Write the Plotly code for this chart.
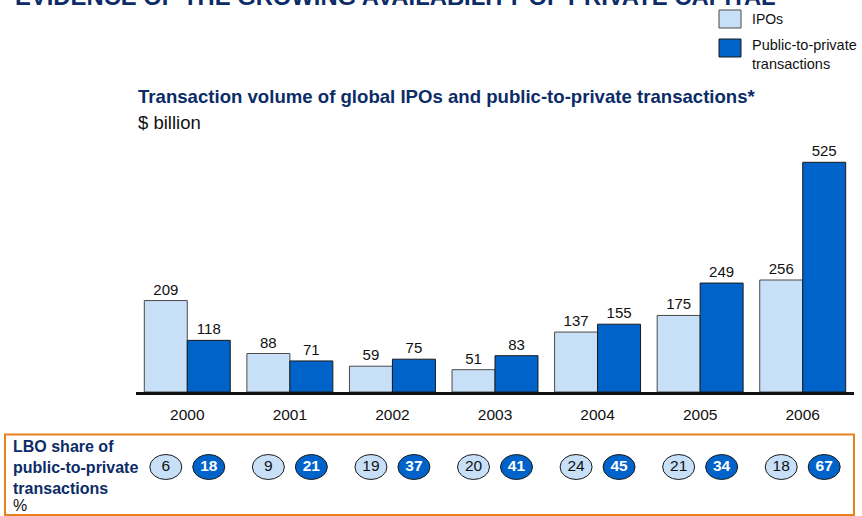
import plotly.graph_objects as go

years = ["2000", "2001", "2002", "2003", "2004", "2005", "2006"]
ipos = [209, 88, 59, 51, 137, 175, 256]
p2p = [118, 71, 75, 83, 155, 249, 525]
lbo_ipo = [6, 9, 19, 20, 24, 21, 18]
lbo_p2p = [18, 21, 37, 41, 45, 34, 67]

W, H = 862, 516
LIGHT = "#C8DFF8"
DARK = "#0063CA"
NAVY = "#0C2C67"
ORANGE = "#E8801E"
FONT = "Liberation Sans, Arial, sans-serif"

bargap = 0.162
idx = list(range(len(years)))
off = (1 - bargap) / 4

fig = go.Figure()
fig.add_trace(go.Bar(
    x=idx, y=ipos, name="IPOs", marker=dict(color=LIGHT, line=dict(color="#4a4a4a", width=1)),
    text=[str(v) for v in ipos], textposition="outside", cliponaxis=False,
    textfont=dict(size=15, color="#111111", family=FONT), showlegend=False))
fig.add_trace(go.Bar(
    x=idx, y=p2p, name="Public-to-private transactions",
    marker=dict(color=DARK, line=dict(color="#1a1a1a", width=1)),
    text=[str(v) for v in p2p], textposition="outside", cliponaxis=False,
    textfont=dict(size=15, color="#111111", family=FONT), showlegend=False))

# LBO share bubbles
xl = [i - off for i in idx]
xr = [i + off for i in idx]
YC = 0.5
fig.add_trace(go.Scatter(
    x=xl, y=[YC] * len(idx), xaxis="x", yaxis="y2", mode="text",
    text=[str(v) for v in lbo_ipo], textfont=dict(size=15.5, color="#111111", family=FONT),
    showlegend=False, hoverinfo="skip"))
fig.add_trace(go.Scatter(
    x=xr, y=[YC] * len(idx), xaxis="x", yaxis="y2", mode="text",
    text=["<b>%d</b>" % v for v in lbo_p2p], textfont=dict(size=15.5, color="white", family=FONT),
    showlegend=False, hoverinfo="skip"))

shapes = []
for xs, fill in ((xl, LIGHT), (xr, DARK)):
    for xc in xs:
        shapes.append(dict(type="circle", xref="x", yref="y2", xsizemode="pixel", ysizemode="pixel",
                           xanchor=xc, yanchor=YC, x0=-16, x1=16, y0=-12.5, y1=12.5,
                           fillcolor=fill, line=dict(color="#1a1a1a", width=1), layer="below"))

# orange box
shapes.append(dict(type="rect", xref="paper", yref="paper", x0=5 / W, x1=854 / W,
                   y0=1 - 515 / H, y1=1 - 434.5 / H, line=dict(color=ORANGE, width=2),
                   fillcolor="rgba(0,0,0,0)", layer="below"))
# legend squares
shapes.append(dict(type="rect", xref="paper", yref="paper", x0=719 / W, x1=741 / W,
                   y0=1 - 28 / H, y1=1 - 10 / H, fillcolor=LIGHT, line=dict(color="#4a4a4a", width=1)))
shapes.append(dict(type="rect", xref="paper", yref="paper", x0=719 / W, x1=741 / W,
                   y0=1 - 57 / H, y1=1 - 39 / H, fillcolor=DARK, line=dict(color="#1a1a1a", width=1)))

def px(xp):
    return xp / W

def py(yp):
    return 1 - yp / H

annotations = [
    dict(text="<b>EVIDENCE OF THE GROWING AVAILABILITY OF PRIVATE CAPITAL</b>", x=px(13), y=py(12),
         xanchor="left", yanchor="bottom", font=dict(size=23.8, color=NAVY, family=FONT)),
    dict(text="IPOs", x=px(750), y=py(19), xanchor="left", yanchor="middle",
         font=dict(size=14, color="#111111", family=FONT)),
    dict(text="Public-to-private<br>transactions", x=px(750), y=py(55), xanchor="left", yanchor="middle",
         align="left", font=dict(size=14.5, color="#111111", family=FONT)),
    dict(text="<b>Transaction volume of global IPOs and public-to-private transactions*</b>",
         x=px(136), y=py(96), xanchor="left", yanchor="middle",
         font=dict(size=18.6, color=NAVY, family=FONT)),
    dict(text="$ billion", x=px(136), y=py(123), xanchor="left", yanchor="middle",
         font=dict(size=18.5, color="#111111", family=FONT)),
    dict(text="<b>LBO share of<br>public-to-private<br>transactions</b>", x=px(11), y=py(467),
         xanchor="left", yanchor="middle", align="left",
         font=dict(size=16, color=NAVY, family=FONT)),
    dict(text="%", x=px(11), y=py(505), xanchor="left", yanchor="middle",
         font=dict(size=16, color="#111111", family=FONT)),
]
for a in annotations:
    a.update(xref="paper", yref="paper", showarrow=False)

fig.update_layout(
    width=W, height=H, margin=dict(l=0, r=0, t=0, b=0),
    paper_bgcolor="white", plot_bgcolor="white",
    barmode="group", bargap=bargap, bargroupgap=0,
    font=dict(family=FONT, color="#111111"),
    xaxis=dict(domain=[136 / W, 854 / W], range=[-0.5, 6.5], tickmode="array", tickvals=idx, ticktext=years,
               showgrid=False, zeroline=False, showline=True, linecolor="#111111", linewidth=3,
               ticks="outside", ticklen=6, tickcolor="rgba(0,0,0,0)",
               tickfont=dict(size=15.5, color="#111111", family=FONT), anchor="y", fixedrange=True),
    yaxis=dict(domain=[py(392), py(147)], range=[0, 560], visible=False, fixedrange=True),
    yaxis2=dict(domain=[py(516), py(418)], range=[0, 1], visible=False, fixedrange=True,
                anchor="x"),
    shapes=shapes, annotations=annotations,
)
fig.write_html("out.html", config={"displayModeBar": False},
               post_script="document.body.style.margin='0';document.body.style.overflow='hidden';")
